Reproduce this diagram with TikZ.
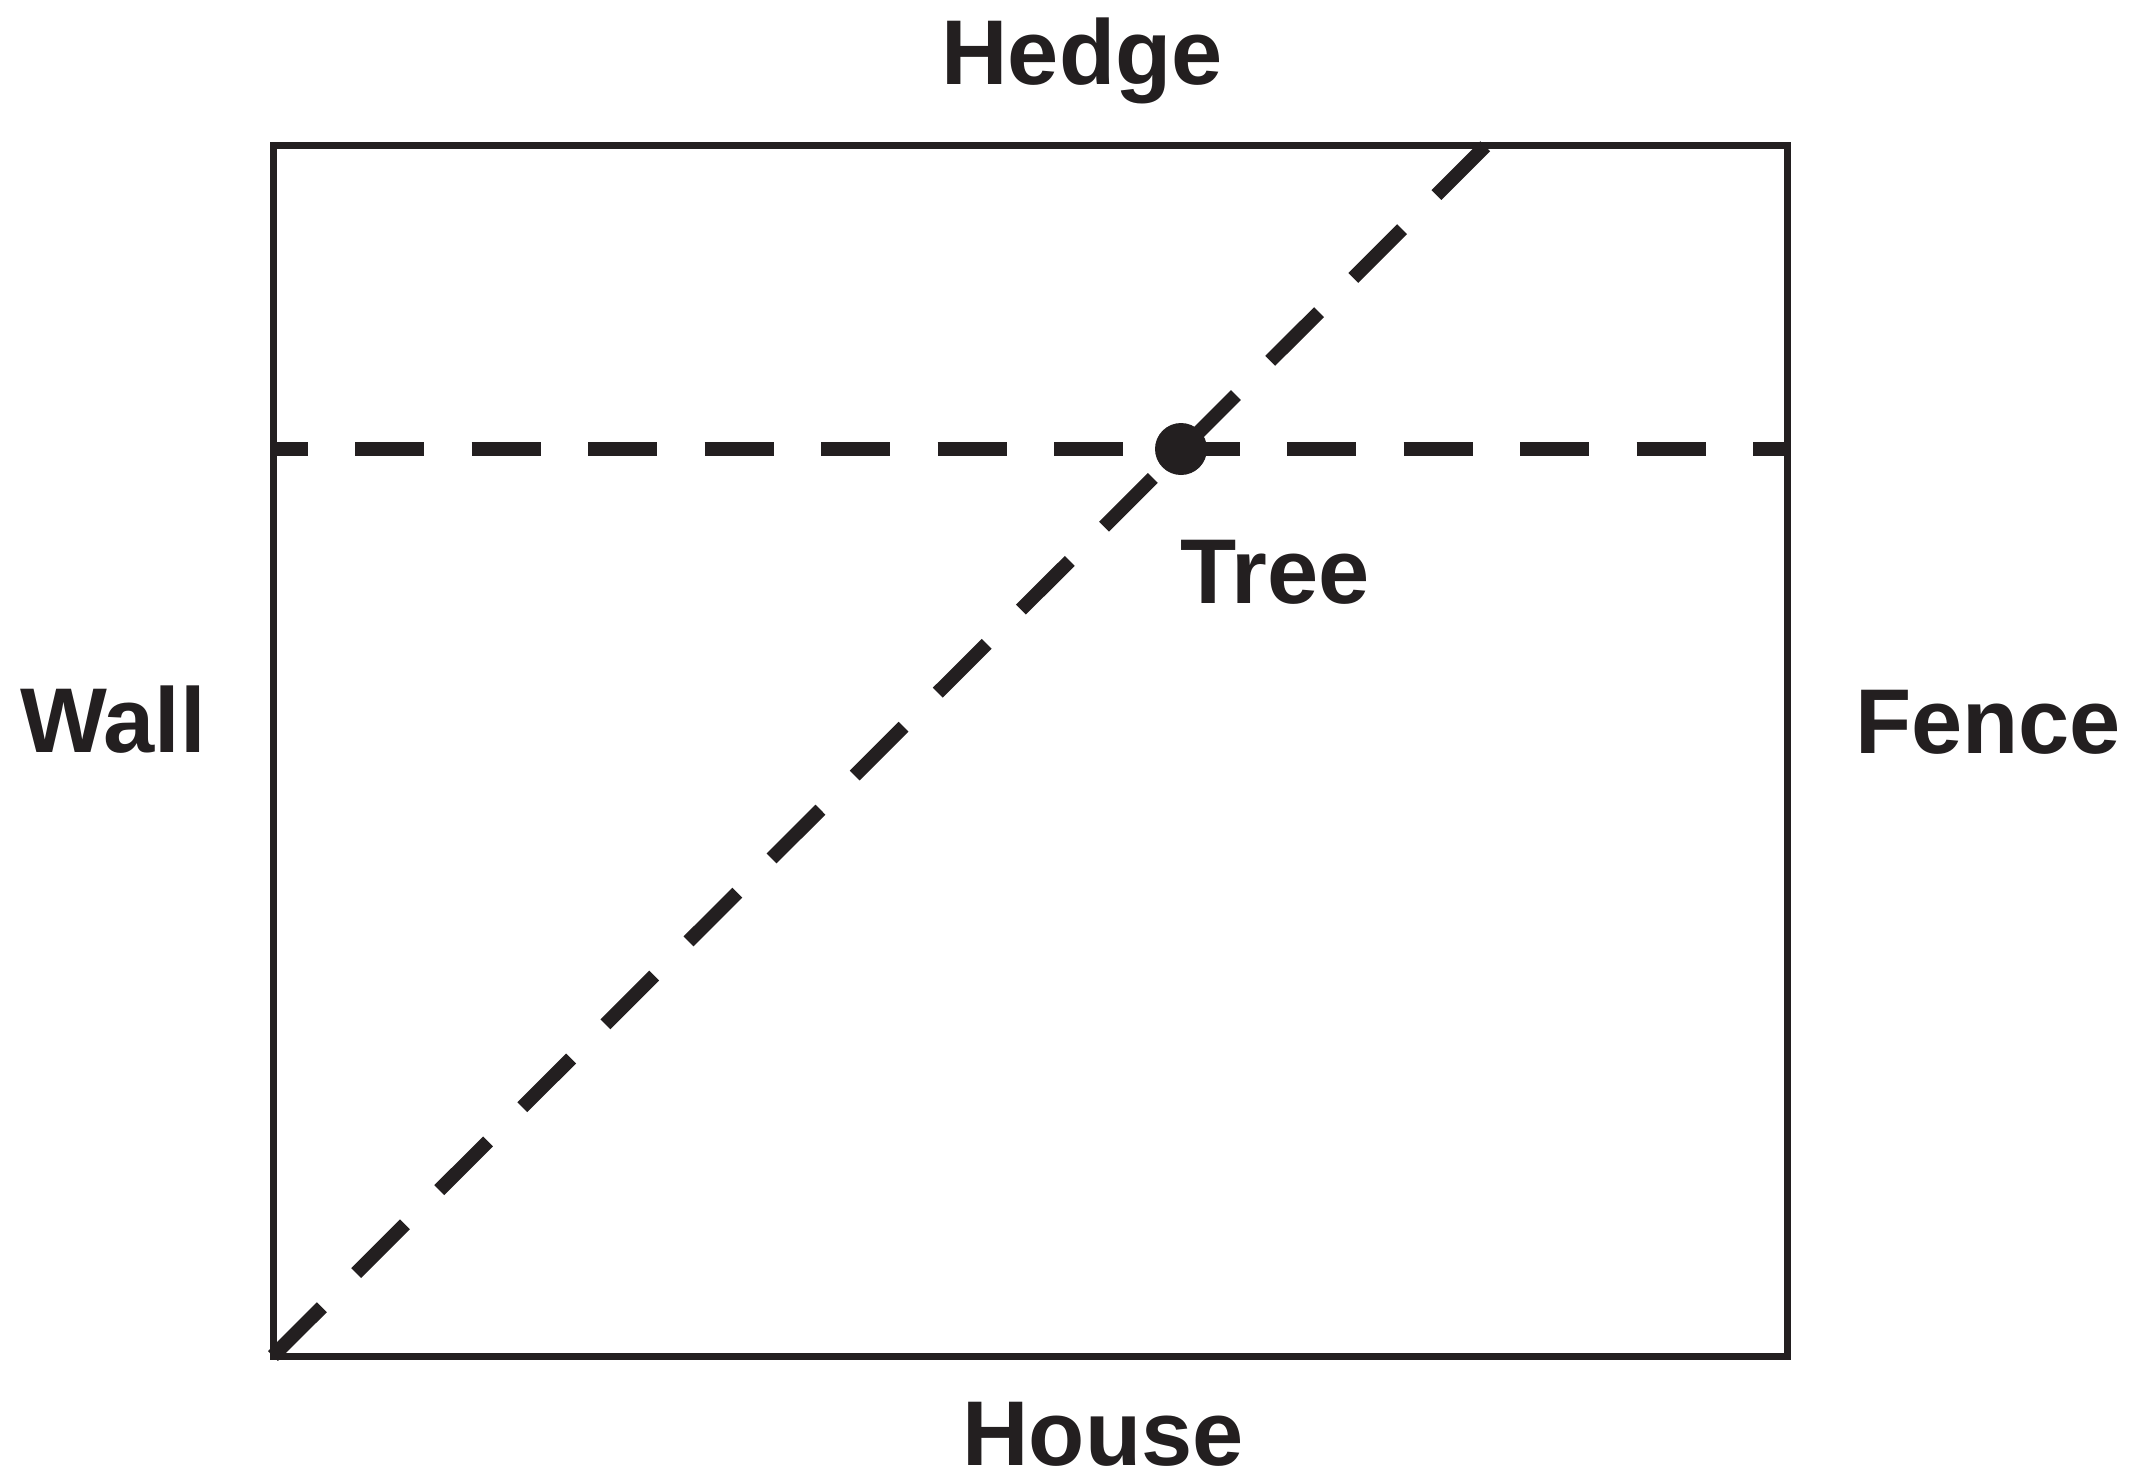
\documentclass[tikz,border=0pt]{standalone}
\usepackage{fontspec}
\setmainfont{Liberation Sans}
\definecolor{ink}{HTML}{231F20}
\begin{document}
\begin{tikzpicture}[x=1pt,y=-1pt,
  border/.style={draw=ink,line width=7pt},
  dashline/.style={draw=ink,line width=14pt,line cap=butt},
  lbl/.style={inner sep=0pt,anchor=base,text=ink,font=\fontsize{92}{92}\selectfont\bfseries}]
\useasboundingbox (0,0) rectangle (2132,1474);
\coordinate (tl) at (273,145.5);
\coordinate (tr) at (1787,145.5);
\coordinate (bl) at (273,1356);
\coordinate (br) at (1787,1356);
\coordinate (hl) at (273,449);
\coordinate (hr) at (1787,449);
\coordinate (dt) at (1486,145.5);
\draw[dashline,dash pattern=on 69pt off 47.5pt,dash phase=34.5pt] (hl) -- (hr);
\draw[dashline,dash pattern=on 69pt off 48.4pt] (bl) -- (dt);
\draw[border] (tl) -- (tr) -- (br) -- (bl) -- cycle;
\node[circle,fill=ink,inner sep=0pt,minimum size=52pt] (tree) at (1181,449) {};
\node[lbl] (hedge) at (1082,85) {Hedge};
\node[lbl,text depth=0pt] (house) at (1103,1465) {House};
\node[lbl] (wall) at (113,752) {Wall};
\node[lbl] (fence) at (1988,753) {Fence};
\node[lbl] (treelbl) at (1275,603) {Tree};
\end{tikzpicture}
\end{document}
